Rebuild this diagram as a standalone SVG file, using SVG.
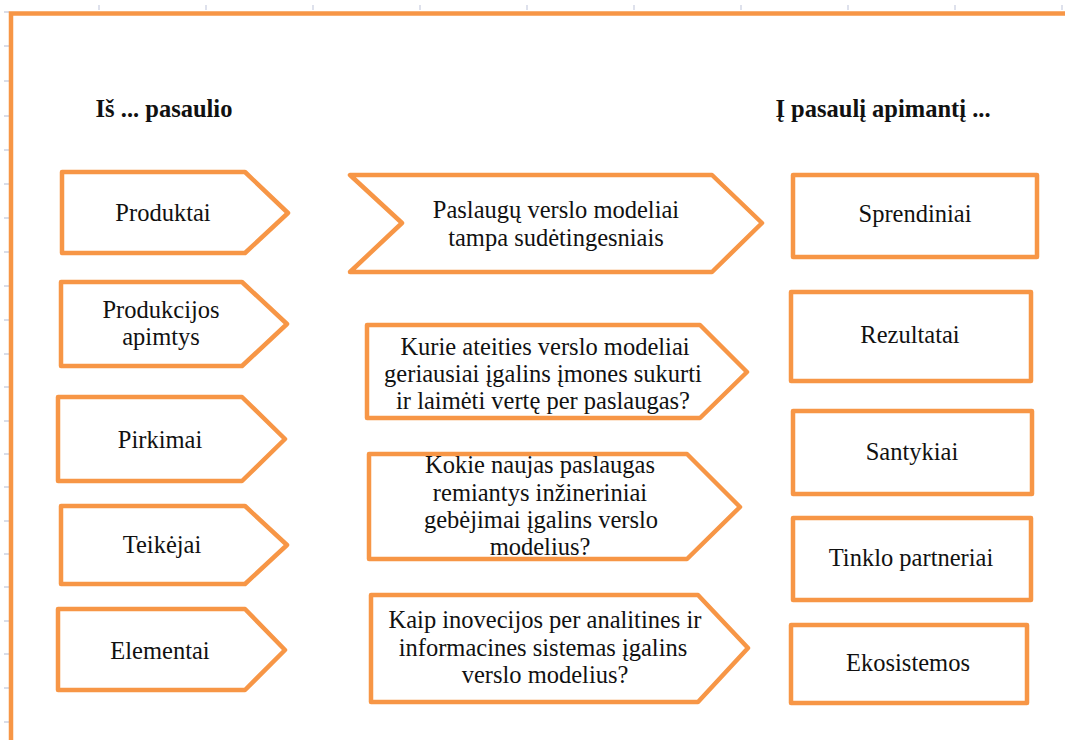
<svg xmlns="http://www.w3.org/2000/svg" width="1065" height="740" viewBox="0 0 1065 740">
<style>
.shape{fill:#fff;stroke:#F79646;stroke-width:4.5;stroke-linejoin:round}
.frame{fill:none;stroke:#F79646;stroke-width:4.5}
.tick{stroke:#cdd2e2;stroke-width:1.3}
text{font-family:"Liberation Serif","Times New Roman",serif;font-size:24.5px;fill:#111;text-anchor:middle}
.hdr{font-weight:bold}
</style>
<rect width="1065" height="740" fill="#fff"/>
<g id="grid-ticks">
<path class="tick" d="M99 5V10M206 5V10M313 5V10M420 5V10M527 5V10M634 5V10M741 5V10M848 5V10M955 5V10M1062 5V10"/>
<path class="tick" d="M4 12H9M4 46H9M4 81H9M4 116H9M4 150H9M4 184H9M4 218H9M4 252H9M4 286H9M4 320H9M4 354H9M4 387H9M4 421H9M4 454H9M4 487H9M4 521H9M4 554H9M4 587H9M4 621H9M4 654H9M4 688H9M4 722H9"/>
</g>
<g id="frame">
<path class="frame" d="M11 742V13.5H1067"/>
</g>
<g id="headers">
<text class="hdr" x="164" y="117">Iš ... pasaulio</text>
<text class="hdr" x="883" y="117">Į pasaulį apimantį ...</text>
</g>
<g id="connectors"></g>
<g id="produktai">
<polygon class="shape" points="62,172 245,172 288,213 245,253 62,253"/>
<text x="163" y="221">Produktai</text>
</g>
<g id="produkcijos-apimtys">
<polygon class="shape" points="61,282 242,282 287,324 242,366 61,366"/>
<text x="161" y="318">Produkcijos</text>
<text x="161" y="345">apimtys</text>
</g>
<g id="pirkimai">
<polygon class="shape" points="58,397 242,397 285,439 242,481 58,481"/>
<text x="160" y="448">Pirkimai</text>
</g>
<g id="teikejai">
<polygon class="shape" points="61,506 245,506 287,545 245,584 61,584"/>
<text x="162" y="553">Teikėjai</text>
</g>
<g id="elementai">
<polygon class="shape" points="58,609 245,609 285,650 245,690 58,690"/>
<text x="160" y="659">Elementai</text>
</g>
<g id="paslaugu-verslo-modeliai">
<polygon class="shape" points="350,175 712,175 762,223 712,272 350,272 402,223"/>
<text x="556" y="218">Paslaugų verslo modeliai</text>
<text x="556" y="246">tampa sudėtingesniais</text>
</g>
<g id="kurie-ateities">
<polygon class="shape" points="367,325 700,325 747,372 700,418 367,418"/>
<text x="545" y="355">Kurie ateities verslo modeliai</text>
<text x="543" y="382">geriausiai įgalins įmones sukurti</text>
<text x="543" y="409">ir laimėti vertę per paslaugas?</text>
</g>
<g id="kokie-naujas">
<polygon class="shape" points="369,454 687,454 740,507 687,559 369,559"/>
<text x="540" y="473">Kokie naujas paslaugas</text>
<text x="540" y="501">remiantys inžineriniai</text>
<text x="541" y="528">gebėjimai įgalins verslo</text>
<text x="540" y="555">modelius?</text>
</g>
<g id="kaip-inovacijos">
<polygon class="shape" points="371,595 698,595 748,648 698,702 371,702"/>
<text x="545" y="628">Kaip inovecijos per analitines ir</text>
<text x="543" y="656">informacines sistemas įgalins</text>
<text x="545" y="683">verslo modelius?</text>
</g>
<g id="sprendiniai">
<rect class="shape" x="793" y="175" width="244" height="82"/>
<text x="915" y="222">Sprendiniai</text>
</g>
<g id="rezultatai">
<rect class="shape" x="791" y="292" width="240" height="89"/>
<text x="910" y="343">Rezultatai</text>
</g>
<g id="santykiai">
<rect class="shape" x="793" y="411" width="239" height="83"/>
<text x="912" y="460">Santykiai</text>
</g>
<g id="tinklo-partneriai">
<rect class="shape" x="793" y="518" width="238" height="82"/>
<text x="911" y="566">Tinklo partneriai</text>
</g>
<g id="ekosistemos">
<rect class="shape" x="791" y="625" width="236" height="78"/>
<text x="908" y="671">Ekosistemos</text>
</g>
</svg>
